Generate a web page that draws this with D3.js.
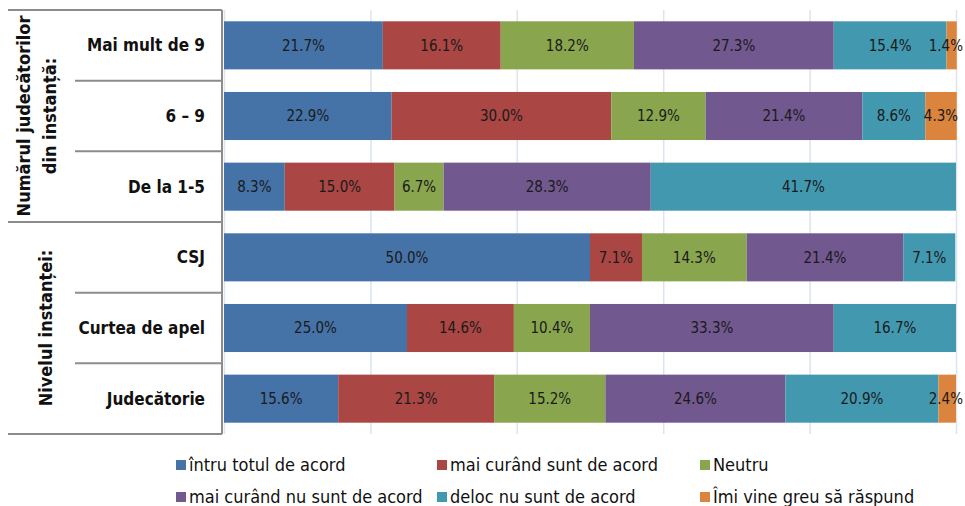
<!DOCTYPE html>
<html>
<head>
<meta charset="utf-8">
<script src="https://cdn.jsdelivr.net/npm/d3@7"></script>
<style>
  body { margin: 0; background: #fff; }
  text { font-family: "DejaVu Sans Condensed", "Liberation Sans Narrow", sans-serif; }
</style>
</head>
<body>
<svg id="chart" width="965" height="506"></svg>
<script>
const categories = ["Mai mult de 9", "6 – 9", "De la 1-5", "CSJ", "Curtea de apel", "Judecătorie"];
const seriesNames = ["întru totul de acord", "mai curând sunt de acord", "Neutru",
  "mai curând nu sunt de acord", "deloc nu sunt de acord", "Îmi vine greu să răspund"];

const totalAgree   = [21.7, 22.9, 8.3, 50.0, 25.0, 15.6];
const ratherAgree  = [16.1, 30.0, 15.0, 7.1, 14.6, 21.3];
const neutral      = [18.2, 12.9, 6.7, 14.3, 10.4, 15.2];
const ratherNot    = [27.3, 21.4, 28.3, 21.4, 33.3, 24.6];
const notAtAll     = [15.4, 8.6, 41.7, 7.1, 16.7, 20.9];
const hardToSay    = [1.4, 4.3, 0, 0, 0, 2.4];

const groups = [
  { lines: ["Numărul judecătorilor", "din instanță:"], rows: categories.slice(0, 3) },
  { lines: ["Nivelul instanței:"], rows: categories.slice(3) }
];

const COLORS = ["#4572A7", "#AA4643", "#89A54E", "#71588F", "#4198AF", "#DB843D"];

const allSeries = [totalAgree, ratherAgree, neutral, ratherNot, notAtAll, hardToSay];
const table = categories.map((c, i) => {
  const row = { cat: c };
  seriesNames.forEach((s, j) => row[s] = allSeries[j][i]);
  return row;
});

const svg = d3.select('#chart');

const x = d3.scaleLinear().domain([0, 100]).range([224, 956]);
const y = d3.scaleBand().domain(categories).range([10, 434]).paddingInner(0.32).paddingOuter(0.16);
const color = d3.scaleOrdinal().domain(seriesNames).range(COLORS);

// gridlines
svg.append('g')
  .attr('transform', 'translate(0,10)')
  .call(d3.axisBottom(x).tickValues([0, 20, 40, 60, 80, 100]).tickSize(424).tickFormat(''))
  .call(g => g.select('.domain').remove())
  .call(g => g.selectAll('line').attr('stroke', '#dbe4f0').attr('stroke-width', 1.5));

// bars
const stacked = d3.stack().keys(seriesNames)(table);

const layers = svg.selectAll('g.layer').data(stacked)
  .enter().append('g')
  .attr('class', 'layer')
  .attr('fill', d => color(d.key));

layers.selectAll('rect').data(d => d.filter(p => p[1] > p[0]))
  .enter().append('rect')
  .attr('x', d => x(d[0]))
  .attr('y', d => y(d.data.cat))
  .attr('width', d => x(d[1]) - x(d[0]))
  .attr('height', y.bandwidth());

layers.selectAll('text').data(d => d.filter(p => p[1] > p[0]))
  .enter().append('text')
  .attr('y', d => y(d.data.cat) + y.bandwidth() / 2)
  .attr('dy', '0.35em')
  .attr('text-anchor', 'middle')
  .attr('fill', '#1a1a1a')
  .attr('font-size', 15)
  .text(d => (d[1] - d[0]).toFixed(1) + '%')
  .attr('x', function (d) {
    const w = this.getComputedTextLength();
    return Math.min((x(d[0]) + x(d[1])) / 2, 963 - w / 2);
  });

// left table
const LINE = '#8c8c8c';
const step = y.step();
const boundary = i => i === 0 ? 10 : (i === categories.length ? 434 : y(categories[i]) - y.paddingInner() * step / 2);

svg.append('line')
  .attr('x1', 222).attr('x2', 222).attr('y1', 10).attr('y2', 434)
  .attr('stroke', LINE).attr('stroke-width', 2);

[0, 1, 2, 3, 4, 5, 6].forEach(i => {
  const full = i % 3 === 0;
  svg.append('line')
    .attr('x1', full ? 8 : 75).attr('x2', 222)
    .attr('y1', boundary(i)).attr('y2', boundary(i))
    .attr('stroke', LINE).attr('stroke-width', 2);
});

svg.append('g').selectAll('text').data(categories)
  .enter().append('text')
  .attr('x', 205)
  .attr('y', d => y(d) + y.bandwidth() / 2)
  .attr('dy', '0.35em')
  .attr('text-anchor', 'end')
  .attr('font-size', 17)
  .attr('font-weight', 'bold')
  .attr('fill', '#111')
  .text(d => d);

groups.forEach((g, gi) => {
  const y0 = boundary(gi * 3), y1 = boundary(gi * 3 + 3);
  const cy = (y0 + y1) / 2;
  const xs = g.lines.length === 2 ? [24, 50] : [46];
  g.lines.forEach((ln, li) => {
    svg.append('text')
      .attr('transform', `translate(${xs[li]},${cy}) rotate(-90)`)
      .attr('dy', '0.35em')
      .attr('text-anchor', 'middle')
      .attr('font-size', 18)
      .attr('font-weight', 'bold')
      .attr('fill', '#111')
      .text(ln);
  });
});

// legend
const legendX = [176, 437, 700];
const legendY = [465, 497];
const legend = svg.append('g').selectAll('g').data(seriesNames)
  .enter().append('g')
  .attr('transform', (d, i) => `translate(${legendX[i % 3]},${legendY[Math.floor(i / 3)]})`);

legend.append('rect')
  .attr('x', 0).attr('y', -5).attr('width', 10).attr('height', 10)
  .attr('fill', d => color(d));

legend.append('text')
  .attr('x', 13)
  .attr('dy', '0.35em')
  .attr('font-size', 18)
  .attr('fill', '#111')
  .text(d => d);
</script>
</body>
</html>
